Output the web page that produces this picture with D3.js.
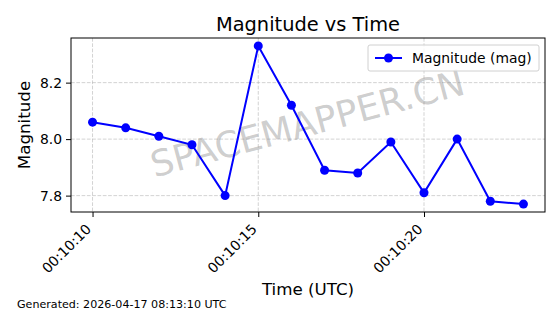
<!DOCTYPE html>
<html>
<head>
<meta charset="utf-8">
<script src="https://cdn.jsdelivr.net/npm/d3@7"></script>
<style>
  body { margin: 0; background: #fff; }
  svg { font-family: "DejaVu Sans", sans-serif; display: block; }
</style>
</head>
<body>
<div id="chart"></div>
<script>
// data
var times = ['00:10:10', '00:10:11', '00:10:12', '00:10:13', '00:10:14', '00:10:15', '00:10:16',
             '00:10:17', '00:10:18', '00:10:19', '00:10:20', '00:10:21', '00:10:22', '00:10:23'];
var magnitudes = [8.06, 8.04, 8.01, 7.98, 7.80, 8.33, 8.12, 7.89, 7.88, 7.99, 7.81, 8.00, 7.78, 7.77];
var xTickLabels = ['00:10:10', '00:10:15', '00:10:20'];
var yTickValues = [7.8, 8.0, 8.2];

var width = 560,
    height = 314;
var margin = { left: 71, right: 15, top: 38, bottom: 102 };

var parseTime = d3.utcParse('%H:%M:%S');
var fmtTime = d3.utcFormat('%H:%M:%S');

var svg = d3.select('#chart')
            .append('svg')
            .attr('width', width)
            .attr('height', height);

var dates = times.map(parseTime);
var pad = 0.05 * (dates[dates.length - 1] - dates[0]);
var xScale = d3.scaleUtc()
               .domain([new Date(+dates[0] - pad), new Date(+dates[dates.length - 1] + pad)])
               .range([margin.left, width - margin.right]);

var yMin = d3.min(magnitudes), yMax = d3.max(magnitudes);
var yPad = 0.05 * (yMax - yMin);
var yScale = d3.scaleLinear()
               .domain([yMin - yPad, yMax + yPad])
               .range([height - margin.bottom, margin.top]);

var plotTop = margin.top, plotBottom = height - margin.bottom;
var plotLeft = margin.left, plotRight = width - margin.right;

// grid
var xTicks = xTickLabels.map(parseTime);
svg.append('g')
   .selectAll('line')
   .data(xTicks)
   .enter()
   .append('line')
   .attr('x1', function(d) { return xScale(d); })
   .attr('x2', function(d) { return xScale(d); })
   .attr('y1', plotTop)
   .attr('y2', plotBottom)
   .style('stroke', '#b0b0b0')
   .style('stroke-opacity', 0.7)
   .style('stroke-dasharray', '3.7,1.6')
   .style('stroke-width', 0.8);
svg.append('g')
   .selectAll('line')
   .data(yTickValues)
   .enter()
   .append('line')
   .attr('x1', plotLeft)
   .attr('x2', plotRight)
   .attr('y1', function(d) { return yScale(d); })
   .attr('y2', function(d) { return yScale(d); })
   .style('stroke', '#b0b0b0')
   .style('stroke-opacity', 0.7)
   .style('stroke-dasharray', '3.7,1.6')
   .style('stroke-width', 0.8);

// watermark
svg.append('text')
   .attr('transform', 'translate(308,126) rotate(-15)')
   .attr('text-anchor', 'middle')
   .attr('dominant-baseline', 'middle')
   .style('font-size', '36px')
   .style('fill', '#808080')
   .style('fill-opacity', 0.4)
   .text('SPACEMAPPER.CN');

// line + markers
var line = d3.line()
             .x(function(d, i) { return xScale(dates[i]); })
             .y(function(d) { return yScale(d); });

svg.append('path')
   .datum(magnitudes)
   .attr('d', line)
   .style('fill', 'none')
   .style('stroke', '#0000ff')
   .style('stroke-width', 2);

svg.append('g')
   .selectAll('circle')
   .data(magnitudes)
   .enter()
   .append('circle')
   .attr('cx', function(d, i) { return xScale(dates[i]); })
   .attr('cy', function(d) { return yScale(d); })
   .attr('r', 4.5)
   .style('fill', '#0000ff');

// frame
svg.append('rect')
   .attr('x', plotLeft)
   .attr('y', plotTop)
   .attr('width', plotRight - plotLeft)
   .attr('height', plotBottom - plotTop)
   .style('fill', 'none')
   .style('stroke', '#000')
   .style('stroke-width', 1);

// axes
var xAxis = d3.axisBottom(xScale)
              .tickValues(xTicks)
              .tickFormat(fmtTime)
              .tickSize(5)
              .tickPadding(4);
var gx = svg.append('g')
            .attr('transform', 'translate(0,' + plotBottom + ')')
            .call(xAxis);
gx.select('.domain').remove();
gx.selectAll('text')
  .style('font-size', '13.9px')
  .style('font-family', '"DejaVu Sans", sans-serif')
  .style('fill', '#000')
  .attr('text-anchor', 'end')
  .attr('x', 0)
  .attr('y', 0)
  .attr('dy', '0.35em')
  .attr('transform', 'translate(-4.5,14.5) rotate(-45)');

var yAxis = d3.axisLeft(yScale)
              .tickValues(yTickValues)
              .tickFormat(d3.format('.1f'))
              .tickSize(5)
              .tickPadding(4);
var gy = svg.append('g')
            .attr('transform', 'translate(' + plotLeft + ',0)')
            .call(yAxis);
gy.select('.domain').remove();
gy.selectAll('text')
  .style('font-size', '13.9px')
  .style('font-family', '"DejaVu Sans", sans-serif')
  .style('fill', '#000');

// titles
svg.append('text')
   .attr('x', (plotLeft + plotRight) / 2)
   .attr('y', 31)
   .attr('text-anchor', 'middle')
   .style('font-size', '19.4px')
   .text('Magnitude vs Time');

svg.append('text')
   .attr('x', (plotLeft + plotRight) / 2)
   .attr('y', 295)
   .attr('text-anchor', 'middle')
   .style('font-size', '16.7px')
   .text('Time (UTC)');

svg.append('text')
   .attr('transform', 'translate(30,' + (plotTop + plotBottom) / 2 + ') rotate(-90)')
   .attr('text-anchor', 'middle')
   .style('font-size', '16.7px')
   .text('Magnitude');

svg.append('text')
   .attr('x', 17)
   .attr('y', 308)
   .style('font-size', '11.1px')
   .text('Generated: 2026-04-17 08:13:10 UTC');

// legend
var legend = svg.append('g').attr('transform', 'translate(368,45)');
legend.append('rect')
      .attr('width', 171)
      .attr('height', 26)
      .attr('rx', 2)
      .style('fill', '#fff')
      .style('fill-opacity', 0.8)
      .style('stroke', '#d0d0d0')
      .style('stroke-width', 1);
legend.append('line')
      .attr('x1', 7).attr('x2', 34)
      .attr('y1', 13).attr('y2', 13)
      .style('stroke', '#0000ff')
      .style('stroke-width', 2);
legend.append('circle')
      .attr('cx', 20.5).attr('cy', 13).attr('r', 4.5)
      .style('fill', '#0000ff');
legend.append('text')
      .attr('x', 44)
      .attr('y', 18)
      .style('font-size', '13.9px')
      .text('Magnitude (mag)');
</script>
</body>
</html>
